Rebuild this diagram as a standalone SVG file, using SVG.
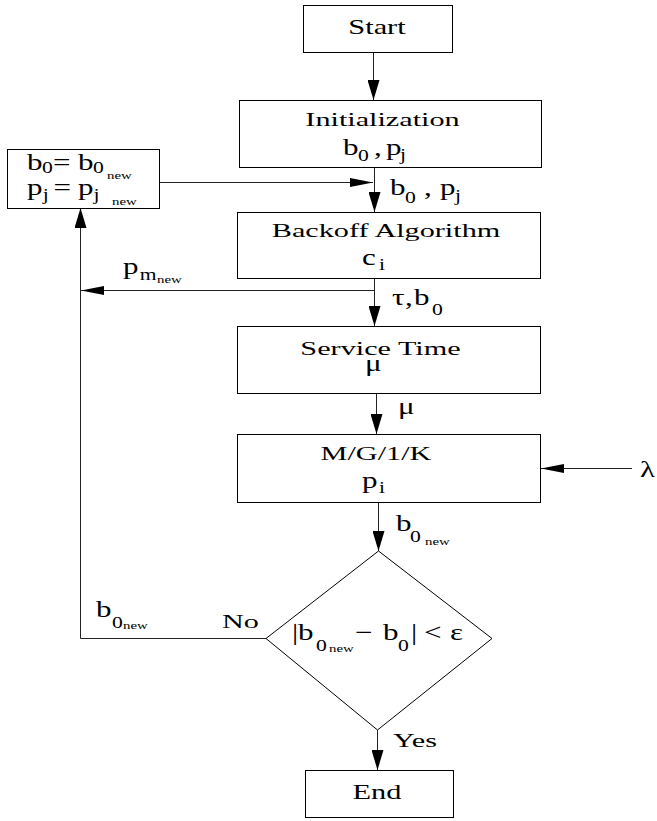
<svg xmlns="http://www.w3.org/2000/svg" width="657" height="821" viewBox="0 0 657 821">
<style>
  .box { fill: #fff; stroke: #000; stroke-width: 1; }
  .ln { fill: none; stroke: #222; stroke-width: 1; }
  .w { font-family: "Liberation Serif", "Times New Roman", serif; font-size: 19.5px; fill: #000; }
  .se { font-family: "Liberation Serif", "Times New Roman", serif; font-size: 22px; fill: #000; }
  .m { font-family: "Liberation Serif", "Times New Roman", serif; font-size: 23px; fill: #000; }
  .s { font-size: 16px; }
  .ss { font-size: 11px; }
</style>
<defs>
  <marker id="av" viewBox="0 0 20 12" refX="20" refY="6" markerWidth="20" markerHeight="12" markerUnits="userSpaceOnUse" orient="auto">
    <path d="M0,0 L20,6 L0,12 z" fill="#000"/>
  </marker>
  <marker id="ah" viewBox="0 0 23 9" refX="23" refY="4.5" markerWidth="23" markerHeight="9" markerUnits="userSpaceOnUse" orient="auto">
    <path d="M0,0 L23,4.5 L0,9 z" fill="#000"/>
  </marker>
</defs>

<g id="connectors">
  <line class="ln" x1="373.5" y1="52" x2="373.5" y2="100" marker-end="url(#av)"/>
  <line class="ln" x1="374.5" y1="167" x2="374.5" y2="212" marker-end="url(#av)"/>
  <line class="ln" x1="159" y1="182.5" x2="373" y2="182.5" marker-end="url(#ah)"/>
  <line class="ln" x1="374.5" y1="278" x2="374.5" y2="326" marker-end="url(#av)"/>
  <line class="ln" x1="374.5" y1="290.5" x2="81" y2="290.5" marker-end="url(#ah)"/>
  <line class="ln" x1="376.5" y1="393" x2="376.5" y2="434" marker-end="url(#av)"/>
  <line class="ln" x1="632" y1="468.5" x2="541" y2="468.5" marker-end="url(#ah)"/>
  <line class="ln" x1="378.5" y1="502" x2="378.5" y2="551" marker-end="url(#av)"/>
  <polyline class="ln" points="266,638.5 80.5,638.5 80.5,208" marker-end="url(#av)"/>
  <line class="ln" x1="377.5" y1="730" x2="377.5" y2="770" marker-end="url(#av)"/>
</g>

<g id="start">
  <rect class="box" x="303.5" y="5.5" width="149" height="47"/>
  <text class="se" text-anchor="middle" transform="matrix(1.38 0 0 1 377 34)">Start</text>
</g>

<g id="init">
  <rect class="box" x="239.5" y="100.5" width="302" height="67"/>
  <text class="w" text-anchor="middle" transform="matrix(1.55 0 0 1 382.5 126)">Initialization</text>
  <text class="m" transform="scale(1.35,1)"><tspan x="254.1" y="155">b</tspan><tspan class="s" x="265.2" y="161">0</tspan><tspan x="277" y="155">,</tspan><tspan x="285.9" y="155">p</tspan><tspan class="s" x="296.3" y="160">j</tspan></text>
</g>

<g id="update">
  <rect class="box" x="7.5" y="149.5" width="152" height="59"/>
  <text class="m" transform="scale(1.35,1)"><tspan x="20" y="170">b</tspan><tspan class="s" x="31.1" y="173">0</tspan><tspan x="39.3" y="170">=</tspan><tspan x="57.8" y="170">b</tspan><tspan class="s" x="68.9" y="173">0</tspan><tspan class="ss" x="79.3" y="179">new</tspan></text>
  <text class="m" transform="scale(1.35,1)"><tspan x="20" y="195">p</tspan><tspan class="s" x="31.6" y="200">j</tspan><tspan x="39.6" y="195">=</tspan><tspan x="57.8" y="195">p</tspan><tspan class="s" x="69.3" y="200">j</tspan><tspan class="ss" x="83" y="205">new</tspan></text>
</g>

<g id="backoff">
  <rect class="box" x="237.5" y="212.5" width="303" height="66"/>
  <text class="w" text-anchor="middle" transform="matrix(1.55 0 0 1 386 237)">Backoff Algorithm</text>
  <text class="m" transform="scale(1.35,1)"><tspan x="268.1" y="265">c</tspan><tspan class="s" x="280.7" y="270">i</tspan></text>
</g>

<g id="service">
  <rect class="box" x="237.5" y="326.5" width="303" height="67"/>
  <text class="w" text-anchor="middle" transform="matrix(1.55 0 0 1 380.5 355)">Service Time</text>
  <text class="m" transform="scale(1.35,1)"><tspan x="270.4" y="371">μ</tspan></text>
</g>

<g id="mg1k">
  <rect class="box" x="237.5" y="434.5" width="303" height="68"/>
  <text class="w" text-anchor="middle" transform="matrix(1.55 0 0 1 376 460)">M/G/1/K</text>
  <text class="m" transform="scale(1.35,1)"><tspan x="268.1" y="488">p</tspan><tspan class="s" x="280.7" y="493">i</tspan></text>
</g>

<g id="decision">
  <polygon class="box" points="378.5,551 492,638.5 377.5,730 266,638.5"/>
  <text class="m" transform="scale(1.35,1)"><tspan x="216.3" y="640">|</tspan><tspan x="220.7" y="640">b</tspan><tspan class="s" x="234.1" y="651">0</tspan><tspan class="ss" x="243.7" y="652">new</tspan><tspan x="263" y="640">−</tspan><tspan x="283.7" y="640">b</tspan><tspan class="s" x="294.8" y="651">0</tspan><tspan x="304.4" y="640">|</tspan><tspan x="314.1" y="640">&lt;</tspan><tspan x="333.3" y="640">ε</tspan></text>
</g>

<g id="end">
  <rect class="box" x="305.5" y="770.5" width="148" height="47"/>
  <text class="se" text-anchor="middle" transform="matrix(1.38 0 0 1 377 799)">End</text>
</g>

<g id="labels">
  <text class="m" transform="scale(1.35,1)"><tspan x="288.9" y="195">b</tspan><tspan class="s" x="300" y="203">0</tspan><tspan x="314" y="195">,</tspan><tspan x="325.9" y="195">p</tspan><tspan class="s" x="337" y="201">j</tspan></text>
  <text class="m" transform="scale(1.35,1)"><tspan x="290.4" y="305">τ</tspan><tspan x="300" y="305">,</tspan><tspan x="306.7" y="305">b</tspan><tspan class="s" x="320" y="315">0</tspan></text>
  <text class="m" transform="scale(1.35,1)"><tspan x="294.8" y="414">μ</tspan></text>
  <text class="m" transform="scale(1.35,1)"><tspan x="474.1" y="477">λ</tspan></text>
  <text class="m" transform="scale(1.35,1)"><tspan x="293.3" y="531">b</tspan><tspan class="s" x="303.7" y="542">0</tspan><tspan class="ss" x="314.8" y="545">new</tspan></text>
  <text class="m" transform="scale(1.35,1)"><tspan x="91.1" y="274">p</tspan><tspan class="s" x="103.5" y="280">m</tspan><tspan class="ss" x="116.3" y="283">new</tspan></text>
  <text class="m" transform="scale(1.35,1)"><tspan x="71.1" y="617">b</tspan><tspan class="s" x="83" y="628">0</tspan><tspan class="ss" x="91.1" y="629">new</tspan></text>
  <text class="w" transform="matrix(1.55 0 0 1 222 628)">No</text>
  <text class="w" transform="matrix(1.55 0 0 1 393 747)">Yes</text>
</g>
</svg>
